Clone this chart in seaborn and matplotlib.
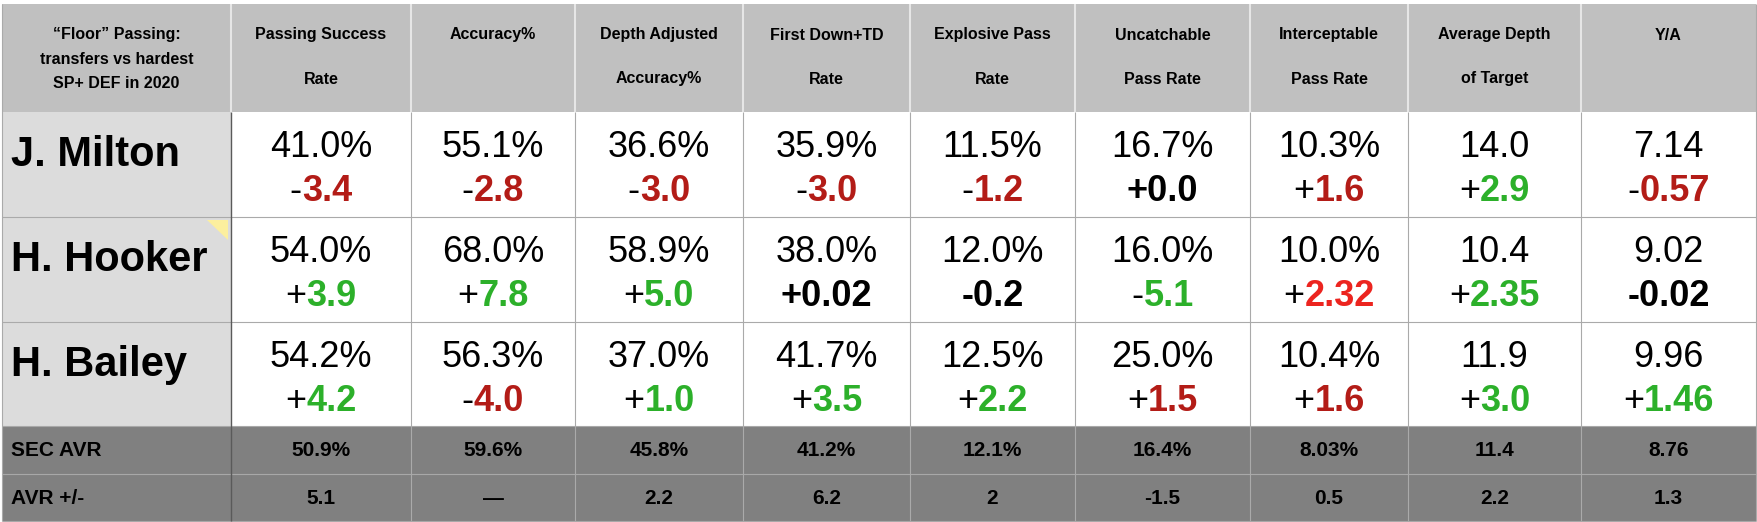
import numpy as np
import seaborn as sns
import matplotlib.pyplot as plt
from matplotlib.colors import ListedColormap

# table content
corner_title = ["\u201cFloor\u201d Passing:", "transfers vs hardest", "SP+ DEF in 2020"]
metric_top = ["Passing Success", "Accuracy%", "Depth Adjusted", "First Down+TD", "Explosive Pass",
              "Uncatchable", "Interceptable", "Average Depth", "Y/A"]
metric_bottom = ["Rate", "", "Accuracy%", "Rate", "Rate", "Pass Rate", "Pass Rate", "of Target", ""]

players = ["J. Milton", "H. Hooker", "H. Bailey"]

milton_vals = ["41.0%", "55.1%", "36.6%", "35.9%", "11.5%", "16.7%", "10.3%", "14.0", "7.14"]
milton_delta = ["-3.4", "-2.8", "-3.0", "-3.0", "-1.2", "+0.0", "+1.6", "+2.9", "-0.57"]
milton_tone = ["bad", "bad", "bad", "bad", "bad", "even", "bad", "good", "bad"]

hooker_vals = ["54.0%", "68.0%", "58.9%", "38.0%", "12.0%", "16.0%", "10.0%", "10.4", "9.02"]
hooker_delta = ["+3.9", "+7.8", "+5.0", "+0.02", "-0.2", "-5.1", "+2.32", "+2.35", "-0.02"]
hooker_tone = ["good", "good", "good", "even", "even", "good", "alarm", "good", "even"]

bailey_vals = ["54.2%", "56.3%", "37.0%", "41.7%", "12.5%", "25.0%", "10.4%", "11.9", "9.96"]
bailey_delta = ["+4.2", "-4.0", "+1.0", "+3.5", "+2.2", "+1.5", "+1.6", "+3.0", "+1.46"]
bailey_tone = ["good", "bad", "good", "good", "good", "bad", "bad", "good", "good"]

sec_avr = ["50.9%", "59.6%", "45.8%", "41.2%", "12.1%", "16.4%", "8.03%", "11.4", "8.76"]
avr_diff = ["5.1", "\u2014", "2.2", "6.2", "2", "-1.5", "0.5", "2.2", "1.3"]

footer_labels = ["SEC AVR", "AVR +/-"]

vals = [milton_vals, hooker_vals, bailey_vals]
deltas = [milton_delta, hooker_delta, bailey_delta]
tones = [milton_tone, hooker_tone, bailey_tone]

tone_color = {"bad": "#b31c17", "good": "#2cb02a", "alarm": "#ec241f", "even": "black"}

# layout (pixels)
col_edges = [2, 231, 411, 575, 743, 910, 1075, 1250, 1408, 1581, 1756]
row_edges = [4, 112, 217, 322, 426, 474, 521]

sns.set_theme(style="white")
plt.rcParams["font.family"] = ["Liberation Sans", "DejaVu Sans"]
plt.rcParams["text.color"] = "black"

fig = plt.figure(figsize=(17.58, 5.22), dpi=100)
ax = fig.add_axes([0, 0, 1, 1])
ax.set_xlim(0, 1758)
ax.set_ylim(522, 0)
ax.axis("off")

# cell backgrounds: 0 header, 1 name column, 2 body, 3 footer
bg = np.full((6, 10), 2)
bg[0, :] = 0
bg[1:4, 0] = 1
bg[4:, :] = 3
cmap = ListedColormap(["#c0c0c0", "#dcdcdc", "#ffffff", "#808080"])
ax.pcolormesh(col_edges, row_edges, bg, cmap=cmap, vmin=-0.5, vmax=3.5)

# grid lines
ax.vlines(col_edges[1:-1], row_edges[0], row_edges[1], color="#e6e6e6", lw=1.5)
ax.hlines(row_edges[2:4], col_edges[0], col_edges[-1], color="#aaaaaa", lw=0.8)
ax.hlines(row_edges[4:], col_edges[0], col_edges[-1], color="#a8a8a8", lw=0.8)
ax.vlines(col_edges[2:-1], row_edges[1], row_edges[-1], color="#aaaaaa", lw=0.8)
ax.vlines([col_edges[0], col_edges[-1]], row_edges[0], row_edges[-1], color="#aaaaaa", lw=0.8)
ax.vlines(col_edges[1], row_edges[1], row_edges[-1], color="#5a5a5a", lw=1.0)

# comment marker on Hooker cell
ax.fill([207, 228, 228], [220, 220, 240], color="#fcef9e", lw=0)

centers = [(col_edges[i] + col_edges[i + 1]) / 2 for i in range(len(col_edges) - 1)]

# header
for y, line in zip([35, 59, 83], corner_title):
    ax.text(centers[0], y, line, ha="center", va="center", fontsize=11.5, fontweight="bold")
for i, (top, bot) in enumerate(zip(metric_top, metric_bottom)):
    ax.text(centers[i + 1], 35, top, ha="center", va="center", fontsize=11.5, fontweight="bold")
    if bot:
        ax.text(centers[i + 1], 79, bot, ha="center", va="center", fontsize=11.5, fontweight="bold")

renderer = fig.canvas.get_renderer()


def signed(x, y, txt, tone):
    # sign in plain black, number bold in tone colour, centred together
    if tone == "even":
        ax.text(x, y, txt, ha="center", va="baseline", fontsize=26, fontweight="bold", color="black")
        return
    t1 = ax.text(x, y, txt[0], ha="right", va="baseline", fontsize=26, color="black")
    t2 = ax.text(x, y, txt[1:], ha="left", va="baseline", fontsize=26, fontweight="bold",
                 color=tone_color[tone])
    w1 = t1.get_window_extent(renderer).width
    w2 = t2.get_window_extent(renderer).width
    shift = (w1 - w2) / 2
    t1.set_x(x + shift)
    t2.set_x(x + shift)


# player rows
for r, name in enumerate(players):
    top = row_edges[r + 1]
    ax.text(11, top + 54, name, ha="left", va="baseline", fontsize=30, fontweight="bold")
    for c in range(9):
        ax.text(centers[c + 1], top + 45, vals[r][c], ha="center", va="baseline", fontsize=26)
        signed(centers[c + 1], top + 89, deltas[r][c], tones[r][c])

# footer rows
for r, (label, row) in enumerate(zip(footer_labels, [sec_avr, avr_diff])):
    yc = (row_edges[r + 4] + row_edges[r + 5]) / 2 + 1
    ax.text(11, yc, label, ha="left", va="center", fontsize=15, fontweight="bold")
    for c in range(9):
        ax.text(centers[c + 1], yc, row[c], ha="center", va="center", fontsize=15, fontweight="bold")

fig.savefig("out.png", dpi=100)
